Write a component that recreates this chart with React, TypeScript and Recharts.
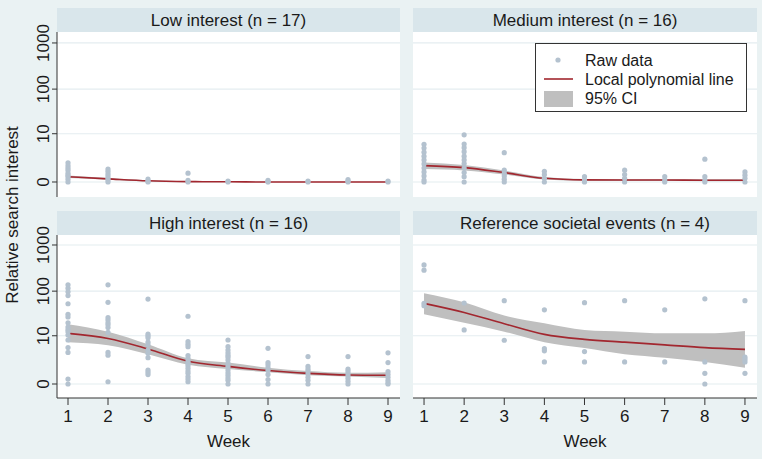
import React from 'react';
import { ComposedChart, Scatter, Line, Area, XAxis, YAxis, CartesianGrid, Legend } from 'recharts';

// ---------- data ----------
const weeks = [1, 2, 3, 4, 5, 6, 7, 8, 9];
const yTickValues = [0, 10, 100, 1000];
const titles = ['Low interest (n = 17)', 'Medium interest (n = 16)', 'High interest (n = 16)', 'Reference societal events (n = 4)'];
const legendLabels = ['Raw data', 'Local polynomial line', '95% CI'];

// raw observations per week (relative search interest)
const lowRaw = [
  [1.6, 1.25, 1.0, 0.8, 0.55, 0.4, 0.3, 0.15, 0],
  [0.9, 0.7, 0.5, 0.35, 0.2, 0.1, 0],
  [0.15, 0.05, 0],
  [0.55, 0.08, 0],
  [0.05, 0],
  [0.08, 0.02, 0],
  [0.05, 0],
  [0.12, 0.05, 0],
  [0.05, 0],
];
const lowFit = [0.3, 0.17, 0.06, 0.02, 0.01, 0, 0, 0, 0];
const lowLo = [0.22, 0.12, 0.03, 0.0, 0.0, 0, 0, 0, 0];
const lowHi = [0.38, 0.22, 0.09, 0.04, 0.02, 0.01, 0.01, 0.01, 0.01];

const medRaw = [
  [5.5, 4.4, 3.4, 2.6, 2.0, 1.45, 1.0, 0.65, 0.35, 0.1, 0],
  [9.4, 5.6, 4.5, 3.5, 2.6, 2.0, 1.5, 1.0, 0.6, 0.3, 0],
  [3.3, 0.8, 0.55, 0.35, 0.15, 0],
  [0.7, 0.45, 0.2, 0],
  [0.3, 0.1, 0],
  [0.8, 0.45, 0.2, 0],
  [0.3, 0.1, 0],
  [2.1, 0.3, 0.1, 0],
  [0.65, 0.4, 0.2, 0],
];
const medFit = [1.25, 1.04, 0.59, 0.2, 0.11, 0.1, 0.1, 0.09, 0.09];
const medLo = [0.9, 0.78, 0.45, 0.13, 0.06, 0.05, 0.05, 0.04, 0.04];
const medHi = [1.65, 1.32, 0.76, 0.28, 0.16, 0.15, 0.15, 0.14, 0.14];

const highRaw = [
  [137, 116, 97, 80, 53, 31, 27, 20, 16, 14, 12.5, 10.4, 7.9, 5.1, 3.8, 0.28, 0],
  [137, 57, 26, 23, 20, 18, 15.5, 12, 3.8, 3.2, 0.12],
  [67, 11, 10, 9, 7, 6, 4.4, 3.6, 2.7, 1.0, 0.8, 0.6],
  [28, 7.2, 6.2, 5.4, 3.1, 2.6, 2.1, 1.8, 1.5, 1.2, 0.9, 0.7, 0.45, 0.28, 0.12],
  [7.9, 5.4, 4.4, 3.7, 3.2, 2.8, 2.3, 1.8, 1.4, 1.0, 0.75, 0.55, 0.35, 0.2, 0],
  [4.9, 1.9, 1.6, 1.25, 0.95, 0.6, 0.25, 0],
  [2.9, 1.4, 1.1, 0.9, 0.65, 0.4, 0.2, 0],
  [2.9, 1.1, 0.9, 0.7, 0.5, 0.33, 0.15, 0],
  [3.7, 1.9, 0.85, 0.6, 0.4, 0.2, 0.07, 0],
];
const highFit = [11.4, 8.6, 4.7, 2.1, 1.4, 0.95, 0.7, 0.57, 0.54];
const highLo = [7, 5.9, 3.4, 1.6, 1.1, 0.8, 0.55, 0.45, 0.35];
const highHi = [18.5, 12.4, 6.2, 2.6, 1.9, 1.25, 0.9, 0.75, 0.8];

const refRaw = [
  [370, 285, 54, 48],
  [55, 13.7],
  [62, 7.8],
  [39, 4.8, 4.2, 2.0],
  [56, 4.0, 2.0],
  [62, 2.0],
  [39, 2.0],
  [68, 2.0, 0.7, 0],
  [62, 2.8, 2.4, 2.0, 0.7],
];
const refFit = [54, 34, 19, 10.8, 8.2, 7, 6, 5.1, 4.6];
const refLo = [31, 20, 12.5, 7, 5, 3.4, 2.7, 2.0, 1.25];
const refHi = [90, 57, 29, 19.4, 13.7, 12.5, 11.4, 11.4, 13];

// ---------- styling ----------
const BG = '#eaf2f3';
const STRIP = '#d9e6eb';
const GRID = '#e4edf0';
const DOT = '#b4c2cf';
const RED = '#a2272f';
const CI = '#bfbfbf';
const AXIS = '#333';
const TXT = '#1a1a1a';
const FONT = '"Liberation Sans", Arial, sans-serif';

const tf = (v: number) => Math.log10(1 + v);
const yTicks = yTickValues.map(tf);
const labelFor = (t: number) => {
  const i = yTicks.findIndex((k) => Math.abs(k - t) < 1e-6);
  return i >= 0 ? String(yTickValues[i]) : '';
};

const buildFit = (fit: number[], lo: number[], hi: number[]) =>
  weeks.map((w, i) => ({ x: w, fit: tf(fit[i]), ci: [tf(lo[i]), tf(hi[i])] }));
const buildRaw = (raw: number[][]) =>
  raw.flatMap((col, i) => col.map((v) => ({ x: weeks[i], y: tf(v) })));

const YTick = (props: any) => {
  const { x, y, payload } = props;
  return (
    <text x={x} y={y} transform={`rotate(-90 ${x} ${y})`} textAnchor="middle" fontSize={17} fill={TXT} fontFamily={FONT}>
      {labelFor(payload.value)}
    </text>
  );
};

const Dot = (p: any) => <circle cx={p.cx} cy={p.cy} r={2.6} fill={DOT} />;

const LegendBox = () => (
  <svg width={212} height={69} style={{ display: 'block' }}>
    <rect x={0.5} y={0.5} width={211} height={68} fill="#fff" stroke={AXIS} strokeWidth={1} />
    <circle cx={23} cy={17} r={2.6} fill={DOT} />
    <line x1={9} x2={38} y1={36} y2={36} stroke={RED} strokeWidth={1.6} />
    <rect x={9} y={48} width={29} height={16} fill={CI} />
    <text x={50} y={22.5} fontSize={16} fill={TXT} fontFamily={FONT}>{legendLabels[0]}</text>
    <text x={50} y={41.5} fontSize={16} fill={TXT} fontFamily={FONT}>{legendLabels[1]}</text>
    <text x={50} y={60.5} fontSize={16} fill={TXT} fontFamily={FONT}>{legendLabels[2]}</text>
  </svg>
);

type PanelProps = {
  title: string;
  raw: number[][];
  fit: number[];
  lo: number[];
  hi: number[];
  left: number;
  top: number;
  width: number;
  plotH: number;
  showY: boolean;
  showX: boolean;
  yDomain: [number, number];
  legend?: boolean;
};

const Panel = ({ title, raw, fit, lo, hi, left, top, width, plotH, showY, showX, yDomain, legend }: PanelProps) => {
  const yW = showY ? 57 : 0;
  const xH = showX ? 57 : 0;
  return (
    <>
      <div
        style={{
          position: 'absolute', left: left + yW, top: top - 24, width: width - yW, height: 24,
          background: STRIP, fontFamily: FONT, fontSize: 17, color: TXT, textAlign: 'center', lineHeight: '25px',
        }}
      >
        {title}
      </div>
      <div style={{ position: 'absolute', left, top }}>
        <ComposedChart width={width} height={plotH + xH} data={buildFit(fit, lo, hi)} margin={{ top: 0, right: 0, bottom: 0, left: 0 }}>
          <CartesianGrid vertical={false} horizontalValues={yTicks} stroke={GRID} strokeWidth={1.2} fill="#fff" fillOpacity={1} />
          <XAxis
            dataKey="x" type="number" domain={[0.725, 9.3]} allowDataOverflow ticks={weeks} hide={!showX}
            height={xH} tickSize={7} tickMargin={5} stroke={AXIS}
            tick={{ fontSize: 17, fill: TXT, fontFamily: FONT }}
            label={showX ? { value: 'Week', position: 'insideBottom', offset: 8, fontSize: 17, fill: TXT, fontFamily: FONT } : undefined}
          />
          <YAxis
            type="number" domain={yDomain} allowDataOverflow ticks={yTicks} hide={!showY}
            width={yW} tickSize={5} tickMargin={3} stroke={AXIS} tick={<YTick />}
          />
          <Area dataKey="ci" type="monotone" fill={CI} fillOpacity={1} stroke="none" isAnimationActive={false} />
          <Scatter data={buildRaw(raw)} dataKey="y" shape={<Dot />} isAnimationActive={false} />
          <Line dataKey="fit" type="monotone" stroke={RED} strokeWidth={1.6} dot={false} isAnimationActive={false} />
          {legend ? (
            <Legend
              layout="horizontal" verticalAlign="middle" align="center"
              wrapperStyle={{ position: 'absolute', left: 122, top: 11, width: 212, height: 69 }}
              content={() => <LegendBox />}
            />
          ) : null}
        </ComposedChart>
      </div>
    </>
  );
};

export default function App() {
  return (
    <div style={{ position: 'absolute', left: 0, top: 0, width: 762, height: 459, background: BG, overflow: 'hidden' }}>
      <style>{'.recharts-surface{overflow:visible}'}</style>
      <Panel title={titles[0]} raw={lowRaw} fit={lowFit} lo={lowLo} hi={lowHi} left={0} top={32} width={400} plotH={165} showY showX={false} yDomain={[-0.324, 3.237]} />
      <Panel title={titles[1]} raw={medRaw} fit={medFit} lo={medLo} hi={medHi} left={413} top={32} width={344} plotH={165} showY={false} showX={false} yDomain={[-0.324, 3.237]} legend />
      <Panel title={titles[2]} raw={highRaw} fit={highFit} lo={highLo} hi={highHi} left={0} top={235} width={400} plotH={163} showY showX yDomain={[-0.302, 3.216]} />
      <Panel title={titles[3]} raw={refRaw} fit={refFit} lo={refLo} hi={refHi} left={413} top={235} width={344} plotH={163} showY={false} showX yDomain={[-0.302, 3.216]} />
      <svg style={{ position: 'absolute', left: 0, top: 0 }} width={30} height={459}>
        <text x={18} y={215} transform="rotate(-90 18 215)" textAnchor="middle" fontSize={17} fill={TXT} fontFamily={FONT}>
          Relative search interest
        </text>
      </svg>
    </div>
  );
}
